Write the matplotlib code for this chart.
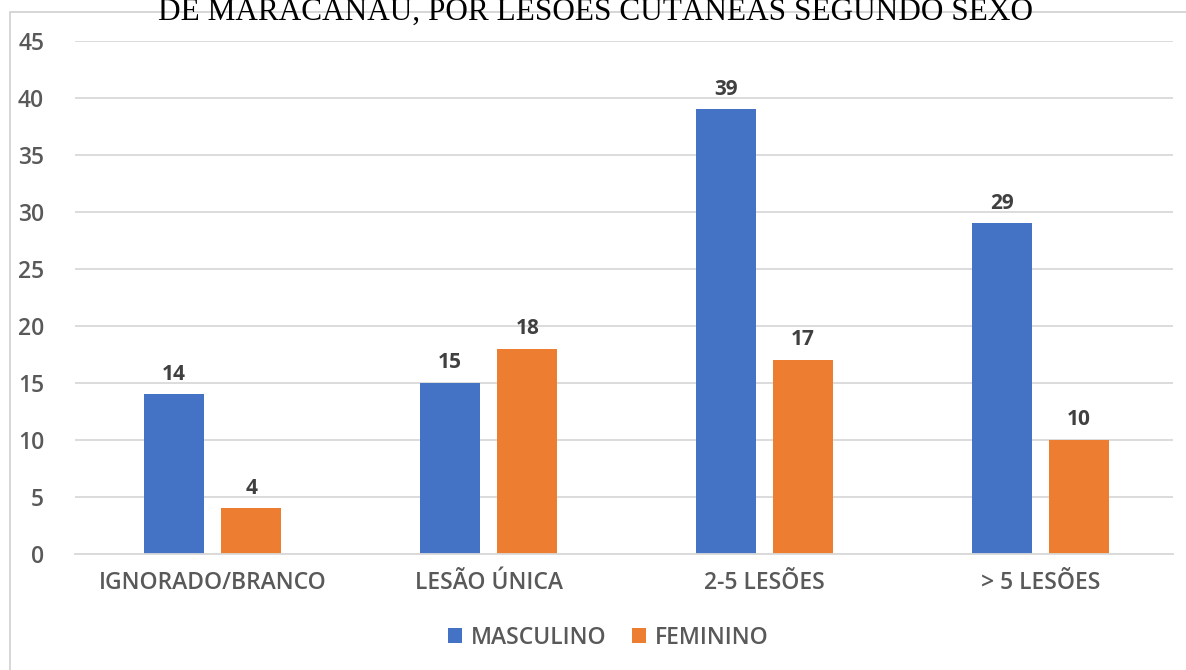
import matplotlib.pyplot as plt
from matplotlib.patches import Rectangle
import numpy as np

categorias = ['IGNORADO/BRANCO', 'LESÃO ÚNICA', '2-5 LESÕES', '> 5 LESÕES']
masculino = [14, 15, 39, 29]
feminino = [4, 18, 17, 10]
y_ticks = [0, 5, 10, 15, 20, 25, 30, 35, 40, 45]

azul = '#4472c4'
laranja = '#ed7d31'
cinza = '#595959'

fig = plt.figure(figsize=(11.86, 6.7), dpi=100)
ax = fig.add_axes([0.063, 0.173, 0.926, 0.766])

x = np.arange(len(categorias))
w = 0.218
off = 0.14

b1 = ax.bar(x - off, masculino, w, color=azul, label='MASCULINO')
b2 = ax.bar(x + off, feminino, w, color=laranja, label='FEMININO')

for bars in (b1, b2):
    for b in bars:
        ax.annotate(str(int(b.get_height())), (b.get_x() + b.get_width() / 2, b.get_height()),
                    xytext=(0, 7), textcoords='offset points', ha='center', va='bottom',
                    fontsize=15, fontweight='bold', color='#404040', family='Open Sans')

ax.set_xlim(-0.5, 3.48)
ax.set_ylim(0, 45)
ax.set_yticks(y_ticks)
ax.set_xticks(x)
ax.set_xticklabels(categorias)
ax.grid(axis='y', color='#d9d9d9', linewidth=1.3)
ax.set_axisbelow(True)
for s in ['top', 'right', 'left']:
    ax.spines[s].set_visible(False)
ax.spines['bottom'].set_color('#d9d9d9')
ax.spines['bottom'].set_linewidth(1.3)
ax.tick_params(axis='both', length=0, colors=cinza, labelsize=16.5)
ax.tick_params(axis='x', pad=12)
ax.tick_params(axis='y', pad=22)
for lbl in ax.get_xticklabels() + ax.get_yticklabels():
    lbl.set_family('Open Sans')
    lbl.set_fontweight('semibold')

leg = fig.legend(loc='center', bbox_to_anchor=(0.513, 0.048), ncol=2, frameon=False,
                 prop={'family': 'Open Sans', 'size': 16.5, 'weight': 'semibold'},
                 handlelength=0.6, handleheight=0.6, columnspacing=1.1, handletextpad=0.4)
for t in leg.get_texts():
    t.set_color(cinza)

# moldura do grafico
fig.patches.append(Rectangle((10 / 1186, -0.01), 1.0, 1 - 12 / 670 + 0.01, transform=fig.transFigure,
                             fill=False, edgecolor='#d0d0d0', linewidth=1.2))

# titulo cortado no topo
fig.text(0.502, 1 - 20 / 670, 'DE MARACANAÚ, POR LESÕES CUTÂNEAS SEGUNDO SEXO',
         ha='center', va='baseline', fontsize=22.5, family='Liberation Serif', color='black')

fig.savefig('out.png', dpi=100)
